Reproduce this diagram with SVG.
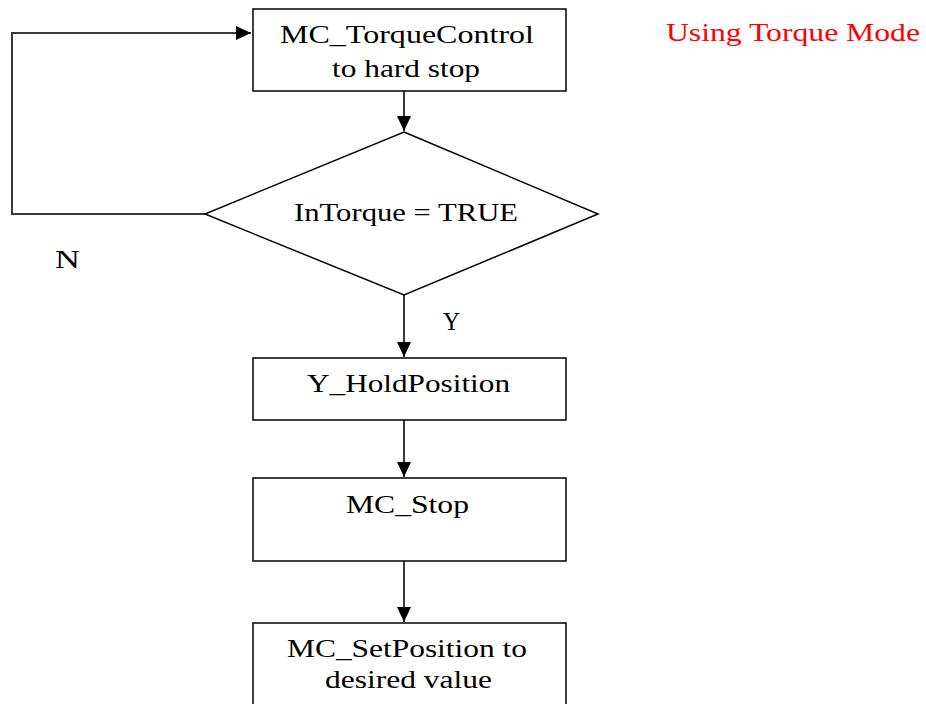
<svg xmlns="http://www.w3.org/2000/svg" width="926" height="704" viewBox="0 0 926 704">
  <style>
    .box { fill: #ffffff; stroke: #000000; stroke-width: 1.5; }
    .wire { fill: none; stroke: #3a3a3a; stroke-width: 2; }
    .lbl { font-family: "Liberation Serif", "Times New Roman", serif; font-size: 25px; fill: #000000; }
    .note { fill: #ff0000; }
  </style>
  <defs>
    <marker id="arrow" markerUnits="userSpaceOnUse" markerWidth="16" markerHeight="14" refX="15" refY="7" orient="auto">
      <path d="M0,0 L15,7 L0,14 Z" fill="#000000"/>
    </marker>
  </defs>

  <rect width="926" height="704" fill="#ffffff"/>

  <!-- connectors -->
  <g id="connectors">
    <polyline class="wire" points="205,214 12,214 12,33 251,33" marker-end="url(#arrow)"/>
    <line class="wire" x1="404" y1="91" x2="404" y2="131" marker-end="url(#arrow)"/>
    <line class="wire" x1="404" y1="295" x2="404" y2="357" marker-end="url(#arrow)"/>
    <line class="wire" x1="404" y1="420" x2="404" y2="477" marker-end="url(#arrow)"/>
    <line class="wire" x1="404" y1="561" x2="404" y2="622" marker-end="url(#arrow)"/>
  </g>

  <!-- nodes -->
  <g id="torque-control">
    <rect class="box" x="253" y="9" width="313" height="82"/>
    <text class="lbl" x="280" y="43" textLength="254" lengthAdjust="spacingAndGlyphs">MC_TorqueControl</text>
    <text class="lbl" x="332" y="77" textLength="148" lengthAdjust="spacingAndGlyphs">to hard stop</text>
  </g>

  <g id="in-torque">
    <polygon class="box" points="404,132 598,214 404,295 205,214"/>
    <text class="lbl" x="294" y="221" textLength="224" lengthAdjust="spacingAndGlyphs">InTorque = TRUE</text>
  </g>

  <g id="hold-position">
    <rect class="box" x="253" y="358" width="313" height="62"/>
    <text class="lbl" x="307" y="392" textLength="203" lengthAdjust="spacingAndGlyphs">Y_HoldPosition</text>
  </g>

  <g id="mc-stop">
    <rect class="box" x="253" y="478" width="313" height="83"/>
    <text class="lbl" x="346" y="513" textLength="123" lengthAdjust="spacingAndGlyphs">MC_Stop</text>
  </g>

  <g id="set-position">
    <rect class="box" x="253" y="623" width="313" height="100"/>
    <text class="lbl" x="287" y="657" textLength="240" lengthAdjust="spacingAndGlyphs">MC_SetPosition to</text>
    <text class="lbl" x="325" y="688" textLength="167" lengthAdjust="spacingAndGlyphs">desired value</text>
  </g>

  <!-- branch labels and mode note -->
  <g id="labels">
    <text class="lbl" x="55" y="268" textLength="25" lengthAdjust="spacingAndGlyphs">N</text>
    <text class="lbl" x="443" y="330" textLength="17" lengthAdjust="spacingAndGlyphs">Y</text>
    <text class="lbl note" x="666" y="41" textLength="254" lengthAdjust="spacingAndGlyphs">Using Torque Mode</text>
  </g>
</svg>
